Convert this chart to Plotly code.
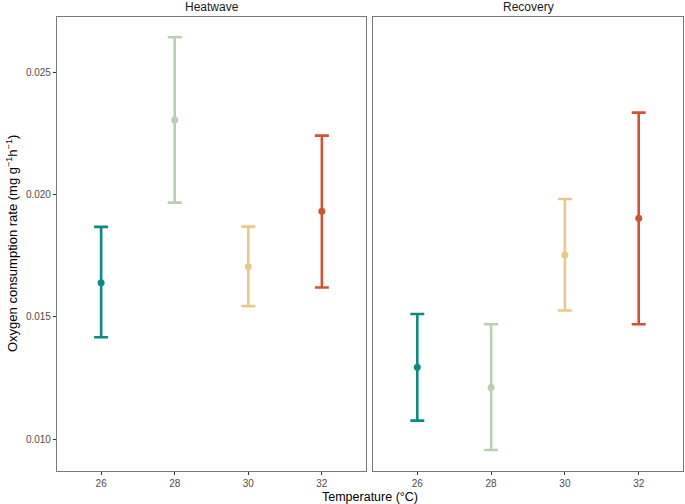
import plotly.graph_objects as go

temps = [26, 28, 30, 32]
colors = ["#0E8A86", "#B8D0B0", "#EAC889", "#CF5430"]

heat_mean = [0.01639, 0.02304, 0.01704, 0.01931]
heat_lo = [0.01416, 0.01966, 0.01543, 0.01619]
heat_hi = [0.01867, 0.02642, 0.01868, 0.02240]

rec_mean = [0.01293, 0.01211, 0.01752, 0.01902]
rec_lo = [0.01075, 0.00955, 0.01525, 0.01469]
rec_hi = [0.01511, 0.01469, 0.01981, 0.02334]

panels = ["Heatwave", "Recovery"]

fig = go.Figure()

def add_panel(means, los, his, xa, ya):
    for t, m, lo, hi, c in zip(temps, means, los, his, colors):
        fig.add_trace(go.Scatter(
            x=[t], y=[m], mode="markers",
            marker=dict(color=c, size=7),
            error_y=dict(type="data", symmetric=False,
                         array=[hi - m], arrayminus=[m - lo],
                         color=c, thickness=2.6, width=7),
            xaxis=xa, yaxis=ya, showlegend=False, hoverinfo="skip"))

add_panel(heat_mean, heat_lo, heat_hi, "x", "y")
add_panel(rec_mean, rec_lo, rec_hi, "x2", "y2")

W, H = 685, 504
ml, mr, mt, mb = 57, 2, 17, 33
pw = W - ml - mr
ph = H - mt - mb
d1 = [0, 309 / pw]
d2 = [316 / pw, 1]

FONT = "Liberation Sans, Arial, sans-serif"
tickfont = dict(family=FONT, size=10, color="#4d4d4d")
common_x = dict(range=[24.8, 33.2], tickvals=temps, ticktext=[str(t) for t in temps],
                showgrid=False, zeroline=False, showline=True, mirror=True,
                linecolor="#7a7a7a", linewidth=1.1, ticks="outside", ticklen=3,
                tickcolor="#333333", tickwidth=1, tickfont=tickfont)
common_y = dict(range=[0.008692, 0.027249], tickvals=[0.010, 0.015, 0.020, 0.025],
                showgrid=False, zeroline=False, showline=True, mirror=True,
                linecolor="#7a7a7a", linewidth=1.1, tickcolor="#333333", tickwidth=1,
                tickfont=tickfont)

fig.update_layout(
    width=W, height=H,
    margin=dict(l=ml, r=mr, t=mt, b=mb, autoexpand=False),
    paper_bgcolor="white", plot_bgcolor="white",
    font=dict(family=FONT, color="black"),
    xaxis=dict(domain=d1, anchor="y", **common_x),
    xaxis2=dict(domain=d2, anchor="y2", **common_x),
    yaxis=dict(domain=[0, 1], anchor="x", ticks="outside", ticklen=3,
               tickformat=".3f", **common_y),
    yaxis2=dict(domain=[0, 1], anchor="x2", ticks="", showticklabels=False,
                matches="y", **common_y),
)

annotations = []
for name, d in zip(panels, [d1, d2]):
    annotations.append(dict(text=name, x=(d[0] + d[1]) / 2, y=1, xref="paper", yref="paper",
                            xanchor="center", yanchor="bottom", yshift=1, showarrow=False,
                            font=dict(size=12, color="#1a1a1a")))
annotations.append(dict(text="Temperature (°C)", x=(d1[0] + d2[1]) / 2, y=(471 - 496.5) / ph,
                        xref="paper", yref="paper", xanchor="center", yanchor="middle",
                        showarrow=False, font=dict(size=12.5, color="black")))
annotations.append(dict(text="Oxygen consumption rate (mg g<sup>−1</sup>h<sup>−1</sup>)",
                        x=(12 - ml) / pw, y=0.5, xref="paper", yref="paper",
                        xanchor="center", yanchor="middle", textangle=-90,
                        showarrow=False, font=dict(size=13, color="black")))
fig.update_layout(annotations=annotations)

fig.write_html("out.html", config={"displayModeBar": False},
               post_script="document.body.style.margin='0';document.body.style.overflow='hidden';")
